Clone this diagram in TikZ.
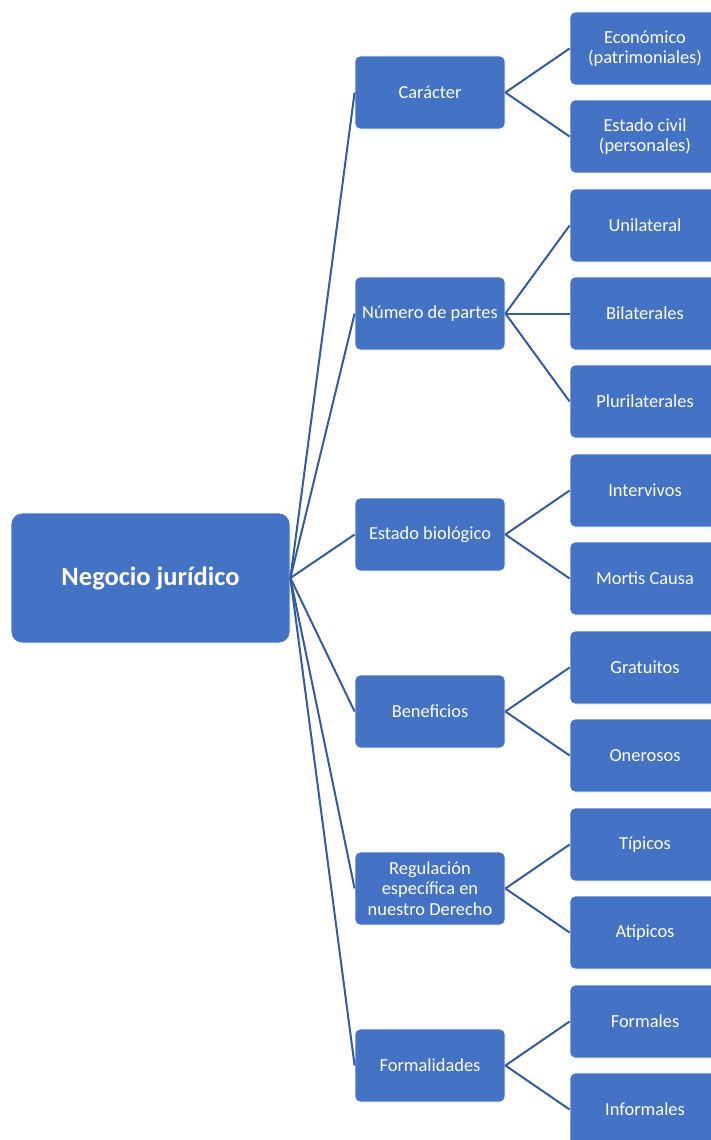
\documentclass[tikz,border=0pt]{standalone}
\usepackage{fontspec}
\setmainfont{Carlito}
\definecolor{boxblue}{HTML}{4472C4}
\definecolor{linkblue}{RGB}{52,90,160}
\begin{document}
\begin{tikzpicture}[x=1pt,y=-1pt,
  box/.style={rectangle,rounded corners=5pt,fill=boxblue,draw=white,line width=0.8pt,
    text=white,align=center,inner sep=0pt,minimum width=150pt,minimum height=73pt,
    font=\fontsize{18.4}{20.5}\selectfont},
  rootbox/.style={box,rounded corners=11pt,minimum width=279pt,minimum height=130pt,
    font=\fontsize{26.5}{30}\selectfont\bfseries},
  link/.style={draw=linkblue,line width=2pt}]
\useasboundingbox (0,0) rectangle (711,1140);
\clip (0,0) rectangle (711,1140);
\node[rootbox] (root) at (150.5,578) {Negocio jurídico};
% mid level
\node[box] (m1) at (430,92.5) {Carácter};
\node[box] (m2) at (430,313.5) {Número de partes};
\node[box] (m3) at (430,534.5) {Estado biológico};
\node[box] (m4) at (430,711.5) {Beneficios};
\node[box] (m5) at (430,888.5) {Regulación\\específica en\\nuestro Derecho};
\node[box] (m6) at (430,1065.5) {Formalidades};
% leaves
\node[box] (l1) at (645,48.5) {Económico\\(patrimoniales)};
\node[box] (l2) at (645,136.5) {Estado civil\\(personales)};
\node[box] (l3) at (645,225.5) {Unilateral};
\node[box] (l4) at (645,313.5) {Bilaterales};
\node[box] (l5) at (645,401.5) {Plurilaterales};
\node[box] (l6) at (645,490.5) {Intervivos};
\node[box] (l7) at (645,578.5) {Mortis Causa};
\node[box] (l8) at (645,667.5) {Gratuitos};
\node[box] (l9) at (645,755.5) {Onerosos};
\node[box] (l10) at (645,844.5) {Típicos};
\node[box] (l11) at (645,932.5) {Atípicos};
\node[box] (l12) at (645,1021.5) {Formales};
\node[box] (l13) at (645,1109.5) {Informales};
% connectors
\foreach \m in {m1,m2,m3,m4,m5,m6}{\draw[link] (root.east) -- (\m.west);}
\draw[link] (m1.east) -- (l1.west);
\draw[link] (m1.east) -- (l2.west);
\draw[link] (m2.east) -- (l3.west);
\draw[link] (m2.east) -- (l4.west);
\draw[link] (m2.east) -- (l5.west);
\draw[link] (m3.east) -- (l6.west);
\draw[link] (m3.east) -- (l7.west);
\draw[link] (m4.east) -- (l8.west);
\draw[link] (m4.east) -- (l9.west);
\draw[link] (m5.east) -- (l10.west);
\draw[link] (m5.east) -- (l11.west);
\draw[link] (m6.east) -- (l12.west);
\draw[link] (m6.east) -- (l13.west);
\end{tikzpicture}
\end{document}
